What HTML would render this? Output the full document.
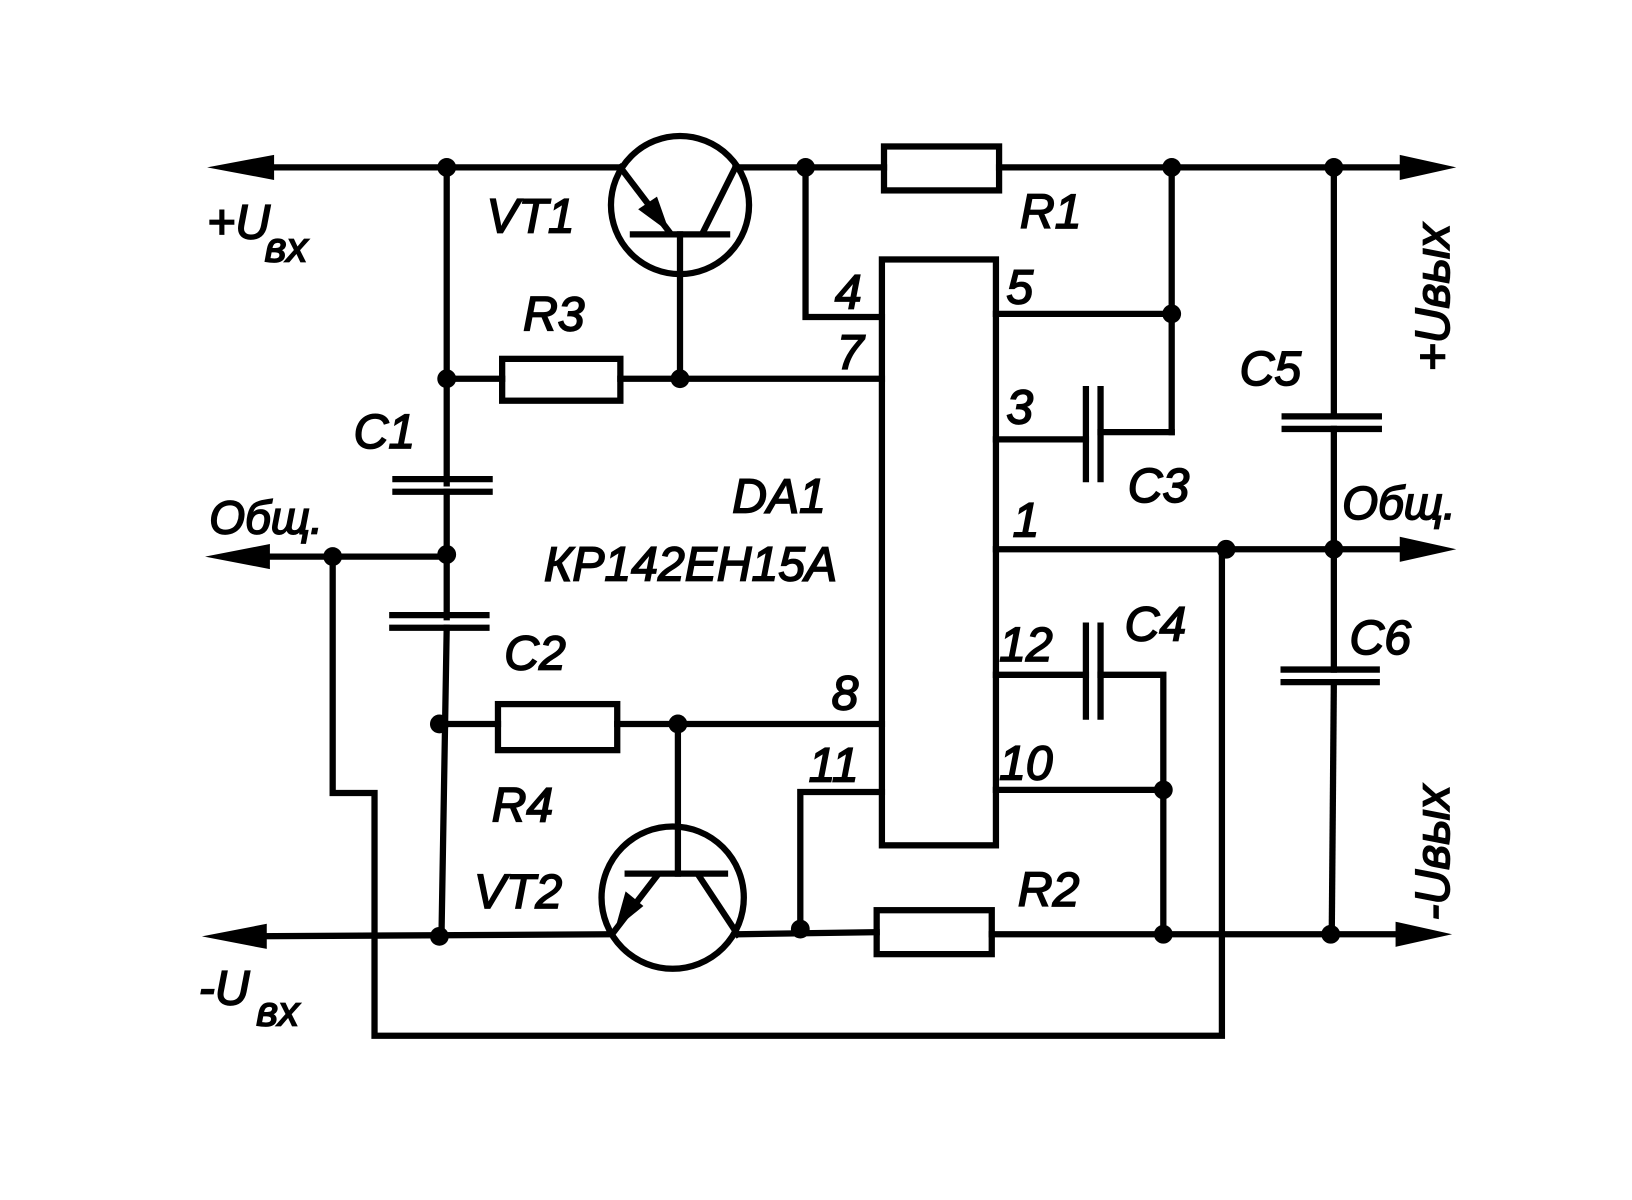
<!DOCTYPE html>
<html><head><meta charset="utf-8"><style>
html,body{margin:0;padding:0;background:#fff;}
svg{display:block;}
text{font-family:"Liberation Sans",sans-serif;font-style:italic;fill:#000;stroke:#000;stroke-width:1.6;}
</style></head><body>
<svg width="1632" height="1200" viewBox="0 0 1560 1147" preserveAspectRatio="none" xmlns="http://www.w3.org/2000/svg">
<g stroke="#000" stroke-width="6" fill="none" stroke-linecap="square">
<line x1="230" y1="160" x2="593" y2="160"/>
<line x1="703" y1="160" x2="845" y2="160"/>
<line x1="955" y1="160" x2="1350" y2="160"/>
<rect x="845" y="140" width="110" height="42"/>
<circle cx="650" cy="196" r="66"/>
<line x1="593" y1="160" x2="640" y2="222"/>
<line x1="703" y1="160" x2="672" y2="222"/>
<line x1="605" y1="224" x2="695" y2="224"/>
<line x1="650" y1="224" x2="650" y2="362"/>
<line x1="427" y1="160" x2="427" y2="462"/>
<line x1="427" y1="470" x2="427" y2="590"/>
<line x1="427" y1="600" x2="422" y2="895"/>
<line x1="378" y1="458" x2="468" y2="458"/>
<line x1="378" y1="470" x2="468" y2="470"/>
<line x1="375" y1="588" x2="465" y2="588"/>
<line x1="375" y1="600" x2="465" y2="600"/>
<line x1="427" y1="362" x2="480" y2="362"/>
<rect x="480" y="343" width="113" height="40"/>
<line x1="593" y1="362" x2="843" y2="362"/>
<polyline points="770,160 770,303 843,303"/>
<rect x="843" y="248" width="109" height="560"/>
<line x1="952" y1="300" x2="1120" y2="300"/>
<line x1="1120" y1="160" x2="1120" y2="413"/>
<line x1="952" y1="420" x2="1038" y2="420"/>
<line x1="1038" y1="372" x2="1038" y2="458"/>
<line x1="1052" y1="372" x2="1052" y2="458"/>
<polyline points="1052,413 1120,413"/>
<line x1="952" y1="525" x2="1345" y2="525"/>
<line x1="952" y1="645" x2="1038" y2="645"/>
<line x1="1038" y1="598" x2="1038" y2="685"/>
<line x1="1052" y1="598" x2="1052" y2="685"/>
<polyline points="1052,645 1112,645 1112,895"/>
<line x1="952" y1="755" x2="1112" y2="755"/>
<line x1="1275" y1="160" x2="1275" y2="398"/>
<line x1="1275" y1="410" x2="1275" y2="640"/>
<line x1="1275" y1="652" x2="1273" y2="893"/>
<line x1="1228" y1="398" x2="1318" y2="398"/>
<line x1="1228" y1="410" x2="1318" y2="410"/>
<line x1="1227" y1="640" x2="1316" y2="640"/>
<line x1="1227" y1="652" x2="1316" y2="652"/>
<line x1="230" y1="532" x2="427" y2="532"/>
<polyline points="318,532 318,758 358,758 358,990 1168,990 1168,525"/>
<line x1="420" y1="692" x2="476" y2="692"/>
<rect x="476" y="673" width="114" height="44"/>
<line x1="590" y1="692" x2="843" y2="692"/>
<line x1="648" y1="692" x2="648" y2="835"/>
<circle cx="643" cy="858" r="68"/>
<line x1="600" y1="835" x2="693" y2="835"/>
<line x1="628" y1="837" x2="585" y2="893"/>
<line x1="668" y1="837" x2="705" y2="893"/>
<line x1="230" y1="895" x2="583" y2="893"/>
<line x1="705" y1="893" x2="838" y2="891"/>
<rect x="838" y="870" width="110" height="42"/>
<line x1="948" y1="893" x2="1345" y2="893"/>
<polyline points="843,757 765,757 765,888"/>
</g>
<g fill="#000" stroke="none">
<polygon points="198,160 262,148 262,172"/>
<polygon points="1392,160 1338,148 1338,172"/>
<polygon points="196,532 258,520 258,544"/>
<polygon points="1392,525 1338,513 1338,537"/>
<polygon points="193,895 255,883 255,907"/>
<polygon points="1388,893 1334,881 1334,905"/>
<polygon points="640,222 610,200 628,188"/>
<polygon points="588,888 598,852 615,866"/>
<circle cx="427" cy="160" r="9"/>
<circle cx="770" cy="160" r="9"/>
<circle cx="1120" cy="160" r="9"/>
<circle cx="1275" cy="160" r="9"/>
<circle cx="427" cy="362" r="9"/>
<circle cx="650" cy="362" r="9"/>
<circle cx="1120" cy="300" r="9"/>
<circle cx="427" cy="530" r="9"/>
<circle cx="318" cy="532" r="9"/>
<circle cx="1172" cy="525" r="9"/>
<circle cx="1275" cy="525" r="9"/>
<circle cx="420" cy="692" r="9"/>
<circle cx="648" cy="692" r="9"/>
<circle cx="1112" cy="755" r="9"/>
<circle cx="420" cy="895" r="9"/>
<circle cx="765" cy="888" r="9"/>
<circle cx="1112" cy="893" r="9"/>
<circle cx="1272" cy="893" r="9"/>
</g>
<g font-size="46">
<text x="198" y="228">+U</text><text x="253" y="250" font-size="40">вх</text>
<text x="190" y="960">-U</text><text x="245" y="980" font-size="40">вх</text>
<text x="465" y="222">VT1</text>
<text x="975" y="218">R1</text>
<text x="500" y="316">R3</text>
<text x="798" y="295">4</text>
<text x="800" y="352">7</text>
<text x="962" y="290">5</text>
<text x="962" y="405">3</text>
<text x="968" y="513">1</text>
<text x="955" y="632">12</text>
<text x="955" y="745">10</text>
<text x="795" y="678">8</text>
<text x="773" y="747">11</text>
<text x="700" y="490">DA1</text>
<text x="520" y="555" font-size="46">КР142ЕН15А</text>
<text x="338" y="428">C1</text>
<text x="482" y="640">C2</text>
<text x="1078" y="480">C3</text>
<text x="1075" y="612">C4</text>
<text x="1185" y="368">C5</text>
<text x="1290" y="625">C6</text>
<text x="200" y="510" font-size="44">Общ.</text>
<text x="1283" y="496" font-size="44">Общ.</text>
<text x="470" y="785">R4</text>
<text x="453" y="868">VT2</text>
<text x="973" y="866">R2</text>
<text transform="translate(1385,355) rotate(-90)" font-size="46">+Uвых</text>
<text transform="translate(1385,880) rotate(-90)" font-size="46">-Uвых</text>
</g>
</svg>
</body></html>
